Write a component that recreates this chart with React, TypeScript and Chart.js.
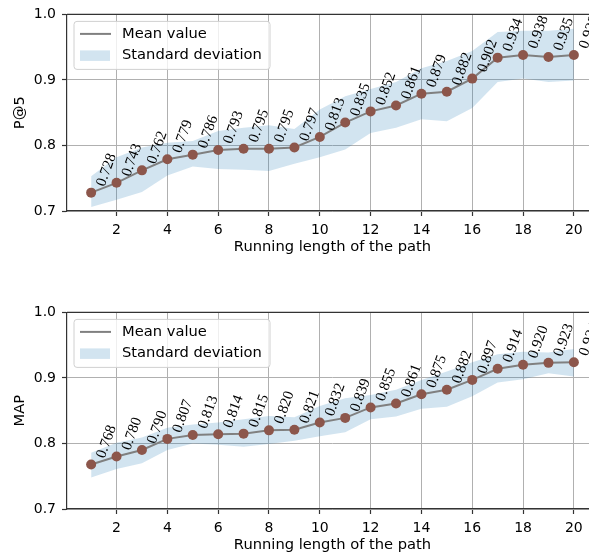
import React, { useEffect, useRef } from "react";
import { Chart, registerables } from "chart.js";

Chart.register(...registerables);

// ---------- data ----------
const steps = [1, 2, 3, 4, 5, 6, 7, 8, 9, 10, 11, 12, 13, 14, 15, 16, 17, 18, 19, 20];
const xTicks = [2, 4, 6, 8, 10, 12, 14, 16, 18, 20];
const yTicks = [0.7, 0.8, 0.9, 1.0];

const p5Mean = [0.728, 0.743, 0.762, 0.779, 0.786, 0.793, 0.795, 0.795, 0.797, 0.813, 0.835, 0.852, 0.861, 0.879, 0.882, 0.902, 0.934, 0.938, 0.935, 0.938];
const p5Upper = [0.753, 0.782, 0.797, 0.804, 0.807, 0.822, 0.827, 0.831, 0.825, 0.855, 0.875, 0.886, 0.897, 0.918, 0.929, 0.944, 0.973, 0.975, 0.975, 0.978];
const p5Lower = [0.706, 0.717, 0.729, 0.754, 0.768, 0.764, 0.763, 0.761, 0.772, 0.782, 0.794, 0.819, 0.827, 0.840, 0.837, 0.857, 0.897, 0.902, 0.897, 0.899];

const mapMean = [0.768, 0.780, 0.790, 0.807, 0.813, 0.814, 0.815, 0.820, 0.821, 0.832, 0.839, 0.855, 0.861, 0.875, 0.882, 0.897, 0.914, 0.920, 0.923, 0.924];
const mapUpper = [0.786, 0.801, 0.809, 0.824, 0.829, 0.832, 0.837, 0.842, 0.840, 0.857, 0.869, 0.874, 0.882, 0.897, 0.910, 0.924, 0.936, 0.940, 0.939, 0.944];
const mapLower = [0.748, 0.761, 0.770, 0.790, 0.800, 0.798, 0.795, 0.799, 0.804, 0.811, 0.817, 0.837, 0.841, 0.853, 0.856, 0.872, 0.893, 0.898, 0.907, 0.902];

const legendLabels = ["Mean value", "Standard deviation"];
const xTitle = "Running length of the path";
const yTitleTop = "P@5";
const yTitleBottom = "MAP";

// ---------- styles ----------
const SANS = '"DejaVu Sans", sans-serif';
const SERIF = '"Liberation Serif", "Times New Roman", Times, serif';
const LINE_COLOR = "#808080";
const POINT_COLOR = "#8c564b";
const BAND_COLOR = "rgba(31,119,180,0.2)";
const SPINE = "#333333";
const GRID = "#b0b0b0";
const ROT = 70;

const valueLabelPlugin = {
  id: "valueLabels",
  afterDatasetsDraw(chart: any) {
    const meta = chart.getDatasetMeta(0);
    const ctx = chart.ctx as CanvasRenderingContext2D;
    const vals = chart.data.datasets[0].data as { x: number; y: number }[];
    const th = (ROT * Math.PI) / 180;
    const c = Math.cos(th);
    const s = Math.sin(th);
    ctx.save();
    ctx.font = `15px ${SERIF}`;
    ctx.fillStyle = "#000";
    ctx.textAlign = "left";
    ctx.textBaseline = "alphabetic";
    meta.data.forEach((pt: any, i: number) => {
      const text = vals[i].y.toFixed(3);
      const m = ctx.measureText(text);
      const a = m.actualBoundingBoxAscent;
      const d = m.actualBoundingBoxDescent;
      const w = m.width;
      const corners = [
        [0, -a],
        [w, -a],
        [0, d],
        [w, d],
      ].map(([u, v]) => [u * c + v * s, -u * s + v * c]);
      const minX = Math.min(...corners.map((p) => p[0]));
      const maxY = Math.max(...corners.map((p) => p[1]));
      const ox = pt.x + 4 - minX;
      const oy = pt.y - 5.5 - maxY;
      ctx.save();
      ctx.translate(ox, oy);
      ctx.rotate(-th);
      ctx.fillText(text, 0, 0);
      ctx.restore();
    });
    ctx.restore();
  },
};

const framePlugin = {
  id: "frame",
  afterDraw(chart: any) {
    const { ctx, chartArea } = chart;
    ctx.save();
    ctx.strokeStyle = SPINE;
    ctx.lineWidth = 1.2;
    ctx.beginPath();
    ctx.moveTo(chartArea.left, chartArea.top);
    ctx.lineTo(chartArea.right, chartArea.top);
    ctx.lineTo(chartArea.right, chartArea.bottom);
    ctx.stroke();

    // legend
    const x0 = chartArea.left + 7;
    const y0 = chartArea.top + 7;
    const w = 196;
    const h = 48;
    const r = 3;
    ctx.beginPath();
    ctx.moveTo(x0 + r, y0);
    ctx.lineTo(x0 + w - r, y0);
    ctx.quadraticCurveTo(x0 + w, y0, x0 + w, y0 + r);
    ctx.lineTo(x0 + w, y0 + h - r);
    ctx.quadraticCurveTo(x0 + w, y0 + h, x0 + w - r, y0 + h);
    ctx.lineTo(x0 + r, y0 + h);
    ctx.quadraticCurveTo(x0, y0 + h, x0, y0 + h - r);
    ctx.lineTo(x0, y0 + r);
    ctx.quadraticCurveTo(x0, y0, x0 + r, y0);
    ctx.closePath();
    ctx.fillStyle = "rgba(255,255,255,0.8)";
    ctx.fill();
    ctx.strokeStyle = "#d0d0d0";
    ctx.lineWidth = 1;
    ctx.stroke();

    ctx.strokeStyle = LINE_COLOR;
    ctx.lineWidth = 2;
    ctx.beginPath();
    ctx.moveTo(x0 + 6, y0 + 12.5);
    ctx.lineTo(x0 + 37, y0 + 12.5);
    ctx.stroke();

    ctx.fillStyle = BAND_COLOR;
    ctx.fillRect(x0 + 6, y0 + 29, 30, 10.5);

    ctx.fillStyle = "#000";
    ctx.font = `14.7px ${SANS}`;
    ctx.textAlign = "left";
    ctx.textBaseline = "middle";
    ctx.fillText(legendLabels[0], x0 + 48, y0 + 12.5);
    ctx.fillText(legendLabels[1], x0 + 48, y0 + 34);
    ctx.restore();
  },
};

function makeConfig(mean: number[], upper: number[], lower: number[], yTitle: string): any {
  const pts = (arr: number[]) => arr.map((v, i) => ({ x: steps[i], y: v }));
  return {
    type: "line",
    data: {
      datasets: [
        {
          label: legendLabels[0],
          data: pts(mean),
          borderColor: LINE_COLOR,
          borderWidth: 2,
          pointRadius: 5,
          pointBackgroundColor: POINT_COLOR,
          pointBorderColor: POINT_COLOR,
          pointBorderWidth: 0,
          fill: false,
          tension: 0,
        },
        {
          label: "lower",
          data: pts(lower),
          borderWidth: 0,
          borderColor: "rgba(0,0,0,0)",
          pointRadius: 0,
          fill: false,
          tension: 0,
        },
        {
          label: legendLabels[1],
          data: pts(upper),
          borderWidth: 0,
          borderColor: "rgba(0,0,0,0)",
          backgroundColor: BAND_COLOR,
          pointRadius: 0,
          fill: 1,
          tension: 0,
        },
      ],
    },
    options: {
      responsive: false,
      animation: false,
      devicePixelRatio: 1,
      layout: { padding: { top: 12, right: 12, left: 0, bottom: 0 } },
      plugins: { legend: { display: false }, tooltip: { enabled: false } },
      scales: {
        x: {
          type: "linear",
          min: 0.05,
          max: 20.95,
          afterBuildTicks: (s: any) => {
            s.ticks = xTicks.map((v) => ({ value: v }));
          },
          afterFit: (s: any) => {
            s.height = 47;
          },
          ticks: {
            font: { family: SANS, size: 14 },
            color: "#000",
            padding: 6,
            maxRotation: 0,
            autoSkip: false,
            callback: (v: number) => String(v),
          },
          grid: { color: GRID, lineWidth: 1, tickLength: 5, tickColor: SPINE, tickWidth: 1.2 },
          border: { color: SPINE, width: 1.2 },
          title: {
            display: true,
            text: xTitle,
            color: "#000",
            font: { family: SANS, size: 14.7 },
            padding: { top: 0, bottom: 2 },
          },
        },
        y: {
          type: "linear",
          min: 0.7,
          max: 1.0,
          afterBuildTicks: (s: any) => {
            s.ticks = yTicks.map((v) => ({ value: v }));
          },
          afterFit: (s: any) => {
            s.width = 67;
          },
          ticks: {
            font: { family: SANS, size: 14 },
            color: "#000",
            padding: 6,
            callback: (v: number) => v.toFixed(1),
          },
          grid: { color: GRID, lineWidth: 1, tickLength: 5, tickColor: SPINE, tickWidth: 1.2 },
          border: { color: SPINE, width: 1.2 },
          title: {
            display: true,
            text: yTitle,
            color: "#000",
            font: { family: SANS, size: 14.7 },
            padding: { top: 11, bottom: 0 },
          },
        },
      },
    },
    plugins: [valueLabelPlugin, framePlugin],
  };
}

function ChartCanvas({ mean, upper, lower, yTitle, top }: { mean: number[]; upper: number[]; lower: number[]; yTitle: string; top: number }) {
  const ref = useRef<HTMLCanvasElement | null>(null);
  useEffect(() => {
    if (!ref.current) return;
    const chart = new Chart(ref.current, makeConfig(mean, upper, lower, yTitle));
    return () => chart.destroy();
  }, []);
  return (
    <canvas
      ref={ref}
      width={610}
      height={258}
      style={{ position: "absolute", left: 0, top, width: 610, height: 258 }}
    />
  );
}

export default function App() {
  return (
    <div
      style={{
        position: "absolute",
        left: 0,
        top: 0,
        width: 589,
        height: 556,
        overflow: "hidden",
        background: "#fff",
      }}
    >
      <ChartCanvas mean={p5Mean} upper={p5Upper} lower={p5Lower} yTitle={yTitleTop} top={0} />
      <ChartCanvas mean={mapMean} upper={mapUpper} lower={mapLower} yTitle={yTitleBottom} top={298} />
    </div>
  );
}
